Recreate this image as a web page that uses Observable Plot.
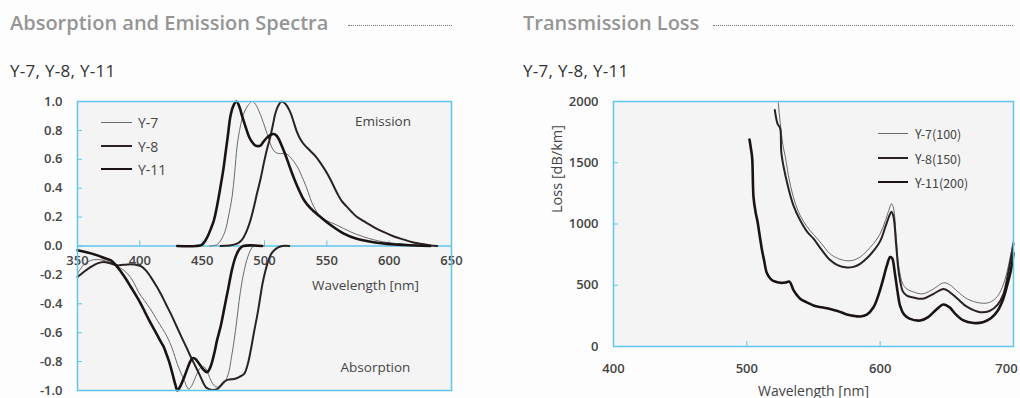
<!DOCTYPE html>
<html><head><meta charset="utf-8">
<script src="https://cdn.jsdelivr.net/npm/d3@7"></script>
<script src="https://cdn.jsdelivr.net/npm/@observablehq/plot@0.6"></script>
<style>
html,body{margin:0;padding:0;}
body{background:#fdfdfd;width:1020px;height:398px;overflow:hidden;position:relative;font-family:"Open Sans",sans-serif;}
.title{position:absolute;top:13px;font-size:20px;line-height:20px;font-weight:600;color:#959595;white-space:nowrap;}
.dots{position:absolute;top:25px;height:0;border-top:1px dotted #777;}
.sub{position:absolute;top:62px;font-size:17px;line-height:17px;font-weight:500;color:#333;white-space:nowrap;letter-spacing:0.3px;}
.panel{position:absolute;top:85px;}
.legend{position:absolute;color:#444;white-space:nowrap;}
.legend div{position:absolute;height:0;}
.legend span{position:absolute;transform:translateY(-50%);}
</style>
</head><body>
<div class="title" style="left:10px">Absorption and Emission Spectra</div>
<div class="dots" style="left:348px;width:104px"></div>
<div class="title" style="left:523px">Transmission Loss</div>
<div class="dots" style="left:713px;width:300px"></div>
<div class="sub" style="left:10px">Y-7, Y-8, Y-11</div>
<div class="sub" style="left:523px">Y-7, Y-8, Y-11</div>
<div id="left" class="panel" style="left:0px"></div>
<div id="right" class="panel" style="left:510px"></div>
<div id="legL" class="legend"></div>
<div id="legR" class="legend"></div>
<script>
// ---------- Data ----------
const seriesNames = ["Y-7", "Y-8", "Y-11"];
const lossLegendLabels = ["Y-7(100)", "Y-8(150)", "Y-11(200)"];
const xTicksSpectra = [350, 400, 450, 500, 550, 600, 650];
const yTicksSpectra = [1, 0.8, 0.6, 0.4, 0.2, 0, -0.2, -0.4, -0.6, -0.8, -1];
const xTicksLoss = [400, 500, 600, 700];
const yTicksLoss = [0, 500, 1000, 1500, 2000];

const emissionY7 = [[456,0],[462,0.01],[465,0.04],[468.7,0.11],[471,0.2],[474,0.34],[476,0.5],[478,0.69],[480,0.8],[482,0.88],[484.5,0.94],[487.4,0.98],[490,1.0],[492,0.99],[495.5,0.935],[498,0.88],[500.8,0.81],[503.5,0.74],[506,0.68],[508.5,0.65],[511.5,0.64],[514,0.64],[516.8,0.64],[519,0.63],[521,0.61],[524,0.58],[527.5,0.53],[530,0.48],[533,0.42],[535.5,0.36],[538,0.30],[541,0.25],[544,0.21],[547,0.19],[550,0.175],[558,0.145],[569,0.098],[579.7,0.063],[595.7,0.028],[617,0.01],[638.5,0]];
const emissionY8 = [[464.7,0],[472,0.003],[478,0.016],[481,0.035],[483.4,0.063],[486,0.11],[488.8,0.18],[491.5,0.27],[494,0.365],[497,0.47],[499.5,0.575],[502,0.67],[504.8,0.76],[507,0.85],[508.8,0.92],[511,0.97],[513.6,1.0],[516,0.99],[518,0.97],[521,0.92],[523.5,0.855],[526,0.79],[528.9,0.737],[532,0.70],[537,0.656],[541,0.62],[545,0.574],[549,0.52],[553,0.458],[558.3,0.365],[562,0.31],[566,0.272],[570,0.235],[574,0.202],[580,0.17],[585,0.144],[591,0.115],[598.4,0.086],[605,0.062],[611.8,0.044],[618,0.028],[625,0.016],[632,0.006],[638.5,0]];
const emissionY11 = [[430,0],[445,0],[450,0.01],[454,0.06],[457,0.12],[459.5,0.18],[462,0.28],[464.7,0.41],[467,0.53],[468.7,0.64],[470.7,0.77],[472.7,0.90],[475,0.97],[477.5,1.0],[480,0.96],[482,0.90],[485,0.82],[487.4,0.76],[490,0.72],[492.8,0.695],[496.8,0.695],[499,0.72],[502,0.75],[505,0.77],[507.5,0.775],[509.5,0.765],[511.5,0.74],[514,0.69],[516.8,0.63],[519.5,0.565],[522,0.505],[525,0.44],[527.5,0.39],[531.5,0.32],[537,0.26],[545,0.20],[553,0.145],[563.6,0.086],[574,0.05],[590,0.023],[612,0.007],[633,0]];

const absorptionY7 = [[350,-0.19],[354,-0.14],[358,-0.11],[363,-0.095],[368,-0.095],[373,-0.105],[378,-0.12],[384,-0.15],[390,-0.19],[395,-0.25],[399,-0.32],[403.5,-0.376],[408,-0.43],[414,-0.515],[418,-0.57],[422,-0.63],[426,-0.71],[430,-0.815],[433,-0.88],[435.6,-0.93],[439,-0.99],[441,-0.975],[443.6,-0.93],[446,-0.88],[449,-0.84],[451,-0.835],[453,-0.85],[457,-0.93],[460,-0.97],[462,-0.977],[465,-0.97],[467.6,-0.95],[470,-0.91],[471.7,-0.86],[473.5,-0.77],[475.7,-0.65],[477.7,-0.52],[479.7,-0.376],[481.7,-0.26],[483.7,-0.17],[485.7,-0.10],[487.7,-0.05],[489.7,-0.015],[491.7,0],[500,0]];
const absorptionY8 = [[350,-0.215],[355,-0.18],[360.7,-0.145],[366,-0.12],[371.4,-0.11],[376,-0.12],[382,-0.134],[387,-0.13],[392.8,-0.127],[397,-0.13],[400.8,-0.14],[405,-0.17],[408.8,-0.215],[412.8,-0.27],[416.8,-0.33],[420.8,-0.40],[424.9,-0.47],[428.9,-0.545],[432.9,-0.62],[437,-0.695],[441,-0.77],[444.5,-0.83],[447.6,-0.885],[450.5,-0.94],[453,-0.977],[457,-0.995],[462,-0.99],[465,-0.965],[467.6,-0.94],[471,-0.925],[475.7,-0.92],[480,-0.905],[483.7,-0.885],[486.5,-0.82],[489,-0.72],[491.5,-0.6],[494.4,-0.47],[496.5,-0.36],[498.4,-0.26],[500.5,-0.18],[502.4,-0.12],[505,-0.06],[507.8,-0.03],[511,-0.01],[514.4,0],[519.8,0]];
const absorptionY11 = [[350,-0.03],[358,-0.045],[366,-0.065],[372,-0.085],[376.7,-0.10],[381,-0.135],[385,-0.18],[389,-0.23],[392.8,-0.284],[396.8,-0.34],[400.8,-0.40],[404,-0.455],[407.5,-0.515],[411,-0.57],[414.2,-0.62],[417,-0.665],[419,-0.695],[421,-0.74],[423.5,-0.80],[426.2,-0.885],[428.5,-0.96],[430.2,-1.0],[432.5,-0.97],[435.6,-0.908],[438.5,-0.84],[441,-0.79],[443,-0.775],[445,-0.785],[448,-0.82],[451,-0.855],[454,-0.873],[456.5,-0.84],[459.5,-0.75],[462,-0.65],[465,-0.55],[468,-0.42],[471,-0.29],[474,-0.16],[477,-0.07],[480,-0.02],[483,0],[498,0]];

const lossY7 = [[523.5,2000],[525,1830],[527,1650],[529,1540],[532,1350],[536,1180],[540,1070],[545,980],[550,915],[556,840],[562,760],[568,720],[575,700],[580,705],[585,730],[590,780],[595,840],[600,920],[604,1030],[607,1130],[608.5,1165],[610,1130],[612,900],[614,650],[617,510],[620,470],[625,445],[632,430],[640,470],[647.5,520],[652,505],[658,450],[665,390],[675,355],[682,360],[688,410],[692.5,510],[696,650],[700,870]];
const lossY8 = [[521,1930],[523,1820],[525,1780],[526,1570],[531,1300],[535,1150],[540,1030],[545,940],[550,880],[556,790],[562,710],[568,665],[575,645],[580,650],[585,675],[590,720],[595,780],[600,860],[604,980],[607,1070],[608.5,1100],[610,1060],[612,830],[614,600],[617,450],[620,415],[625,400],[632,390],[640,430],[647.5,470],[652,445],[658,390],[665,325],[675,280],[682,290],[688,340],[692.5,430],[696,600],[700,840]];
const lossY11 = [[502,1690],[503,1620],[504,1540],[505,1220],[506.5,1100],[508,1020],[510,880],[511.5,780],[513,700],[515,600],[518,550],[521,530],[525,520],[529,522],[532,530],[535,460],[540,390],[545,360],[550,335],[556,320],[562.5,307],[568,290],[575,262],[580,250],[585,245],[590,260],[595,320],[599,430],[602,540],[605,660],[607.5,730],[609,720],[611,600],[613,450],[615,330],[618,260],[622,228],[630,212],[636,240],[642,300],[647.5,343],[652,320],[656,270],[662,215],[670,192],[677,198],[683,230],[688,290],[692,380],[695,490],[698,620],[700,760]];

// ---------- Styles ----------
const axisBlue = "#5fc5ee";
const plotBg = "#f4f4f4";
const labelColor = "#444";
const seriesStyle = {
  "Y-7": {stroke: "#6a6a6a", width: 1},
  "Y-8": {stroke: "#2a2220", width: 2},
  "Y-11": {stroke: "#1a1311", width: 2.6}
};
const toRows = (pts) => pts.map(([x, y]) => ({x, y}));
const lineMark = (pts, name) => Plot.line(toRows(pts), {x: "x", y: "y", curve: "catmull-rom",
  stroke: seriesStyle[name].stroke, strokeWidth: seriesStyle[name].width, strokeLinejoin: "round", strokeLinecap: "round"});

const font = '"Open Sans", sans-serif';

// ---------- Left: spectra ----------
const left = Plot.plot({
  width: 510, height: 313,
  marginLeft: 77, marginRight: 59, marginTop: 16, marginBottom: 8,
  x: {domain: [350, 650], axis: null},
  y: {domain: [-1, 1], axis: null},
  style: {background: "transparent", fontFamily: font, fontSize: "13px", fontWeight: 600, color: labelColor, overflow: "visible"},
  marks: [
    Plot.frame({fill: plotBg, stroke: null}),
    Plot.ruleY([0], {stroke: axisBlue, strokeWidth: 1.5}),
    Plot.ruleX(xTicksSpectra.slice(1, -1), {x: d => d, y1: 0, y2: 0.035, stroke: axisBlue}),
    Plot.axisY({ticks: yTicksSpectra, tickSize: -5, tickPadding: 20, tickFormat: d => d.toFixed(1), stroke: axisBlue, fill: labelColor, label: null}),
    lineMark(absorptionY7, "Y-7"),
    lineMark(absorptionY8, "Y-8"),
    lineMark(absorptionY11, "Y-11"),
    lineMark(emissionY7, "Y-7"),
    lineMark(emissionY8, "Y-8"),
    lineMark(emissionY11, "Y-11"),
    Plot.text(xTicksSpectra, {x: d => d, y: 0, dy: 15, text: d => String(d), fill: labelColor}),
    Plot.frame({stroke: axisBlue, strokeWidth: 1.5}),
    Plot.text(["Emission"], {x: 595, y: 0.86, text: d => d, fill: labelColor, fontWeight: 500, fontSize: 13.5}),
    Plot.text(["Absorption"], {x: 589, y: -0.845, text: d => d, fill: labelColor, fontWeight: 500, fontSize: 13.5}),
    Plot.text(["Wavelength [nm]"], {x: 581, y: -0.277, text: d => d, fill: labelColor, fontWeight: 500, fontSize: 13.5})
  ]
});
document.getElementById("left").append(left);

// ---------- Right: transmission loss ----------
const right = Plot.plot({
  width: 510, height: 313,
  marginLeft: 103, marginRight: 7, marginTop: 16, marginBottom: 52,
  x: {domain: [400, 700], axis: null},
  y: {domain: [0, 2000], axis: null},
  style: {background: "transparent", fontFamily: font, fontSize: "13px", fontWeight: 600, color: labelColor, overflow: "visible"},
  marks: [
    Plot.frame({fill: plotBg, stroke: null}),
    Plot.axisX({ticks: xTicksLoss.slice(0, -1), tickSize: -5, tickPadding: 22, tickFormat: d => String(d), stroke: axisBlue, fill: labelColor, label: null}),
    Plot.axisX({ticks: xTicksLoss.slice(-1), tickSize: 0, tickPadding: 17, tickFormat: d => String(d), fill: labelColor, label: null, dx: -7}),
    Plot.axisY({ticks: yTicksLoss, tickSize: -5, tickPadding: 20, tickFormat: d => String(d), stroke: axisBlue, fill: labelColor, label: null}),
    lineMark(lossY7, "Y-7"),
    lineMark(lossY8, "Y-8"),
    lineMark(lossY11, "Y-11"),
    Plot.frame({stroke: axisBlue, strokeWidth: 1.5}),
    Plot.text(["Loss [dB/km]"], {frameAnchor: "left", dx: -56, dy: -11, rotate: -90, text: d => d, fill: labelColor, fontWeight: 500, fontSize: 14.5}),
    Plot.text(["Wavelength [nm]"], {frameAnchor: "bottom", dy: 49, text: d => d, fill: labelColor, fontWeight: 500, fontSize: 14})
  ]
});
document.getElementById("right").append(right);

// ---------- Legends ----------
function buildLegend(el, labels, x0, y0, rowGap, lineLen, gap, fontSize, fontFamily) {
  el.style.left = x0 + "px";
  el.style.top = y0 + "px";
  el.style.fontSize = fontSize + "px";
  el.style.fontFamily = fontFamily;
  labels.forEach((lab, i) => {
    const st = seriesStyle[seriesNames[i]];
    const ln = document.createElement("div");
    ln.style.left = "0px";
    ln.style.top = (i * rowGap - st.width / 2) + "px";
    ln.style.width = lineLen + "px";
    ln.style.borderTop = st.width + "px solid " + st.stroke;
    el.append(ln);
    const sp = document.createElement("span");
    sp.textContent = lab;
    sp.style.left = (lineLen + gap) + "px";
    sp.style.top = (i * rowGap) + "px";
    el.append(sp);
  });
}
buildLegend(document.getElementById("legL"), seriesNames, 101, 122, 23.5, 31, 6, 14, font);
buildLegend(document.getElementById("legR"), lossLegendLabels, 878, 133, 24.5, 30, 7, 12.5, '"Noto Sans CJK JP", sans-serif');
</script>
</body></html>
